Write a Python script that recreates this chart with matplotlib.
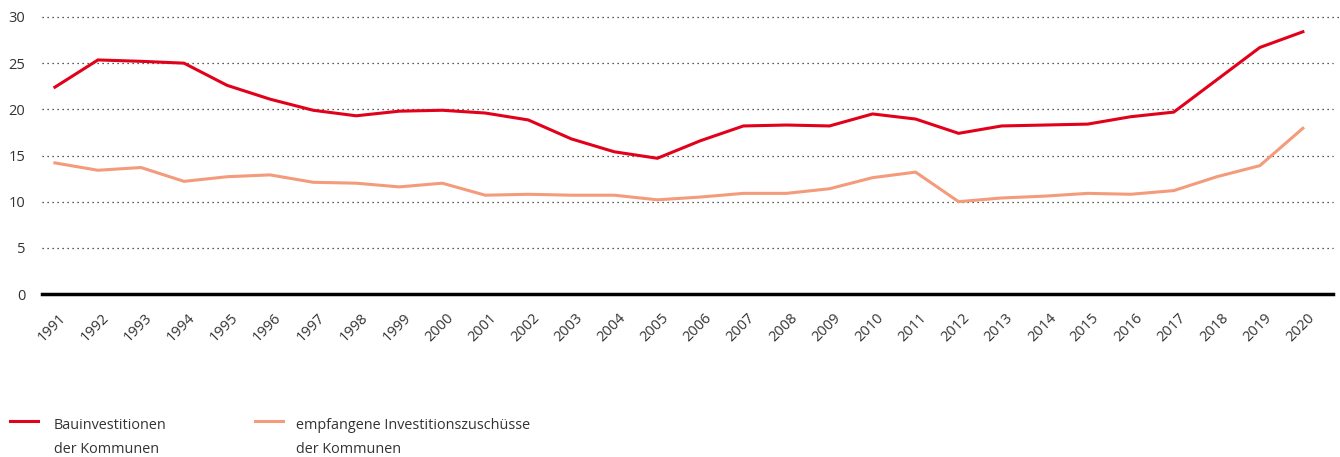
import matplotlib
matplotlib.use("Agg")
import matplotlib.pyplot as plt
from matplotlib.lines import Line2D
from matplotlib.transforms import ScaledTranslation

years = list(range(1991, 2021))
bauinvestitionen = [22.4, 25.35, 25.2, 25.0, 22.6, 21.1, 19.9, 19.3, 19.8, 19.9,
                    19.6, 18.85, 16.8, 15.4, 14.7, 16.6, 18.2, 18.3, 18.2, 19.5,
                    18.95, 17.4, 18.2, 18.3, 18.4, 19.2, 19.7, 23.2, 26.7, 28.4]
zuschuesse = [14.2, 13.4, 13.7, 12.2, 12.7, 12.9, 12.1, 12.0, 11.6, 12.0,
              10.7, 10.8, 10.7, 10.7, 10.2, 10.5, 10.9, 10.9, 11.4, 12.6,
              13.2, 10.0, 10.4, 10.6, 10.9, 10.8, 11.2, 12.7, 13.9, 17.95]
yticks = [0, 5, 10, 15, 20, 25, 30]
labels = ["Bauinvestitionen\nder Kommunen",
          "empfangene Investitionszuschüsse\nder Kommunen"]

RED = "#e2001a"
SALMON = "#f39b7a"
TXT = "#333333"

plt.rcParams['font.family'] = ['Open Sans', 'DejaVu Sans']

W, H = 1340, 457
fig = plt.figure(figsize=(W/100, H/100), dpi=100)
ax = fig.add_axes([42/W, 1-294/H, (1333-42)/W, (294-17)/H])

ax.plot(years, zuschuesse, color=SALMON, lw=2.2, solid_joinstyle='miter', zorder=3)
ax.plot(years, bauinvestitionen, color=RED, lw=2.2, solid_joinstyle='miter', zorder=4)

ax.set_xlim(1990.7, 2020.7)
ax.set_ylim(0, 30)
ax.set_yticks(yticks)
ax.set_xticks(years)
ax.set_xticklabels([str(y) for y in years], rotation=45, ha='right',
                   rotation_mode='anchor', fontsize=10.5, color=TXT)
ax.set_yticklabels([str(v) for v in yticks], fontsize=10.5, color=TXT)
ax.tick_params(axis='both', length=0)
ax.tick_params(axis='y', pad=12)
ax.tick_params(axis='x', pad=12)
shift = ScaledTranslation(4/100, 0, fig.dpi_scale_trans)
for lab in ax.get_xticklabels():
    lab.set_transform(lab.get_transform() + shift)

for v in yticks[1:]:
    ax.axhline(v, color="#222222", lw=0.9, ls=(0, (1, 3)), zorder=1, clip_on=False,
               xmax=1.005 if v == 30 else 1.0)
ax.axhline(0, color="black", lw=2.5, zorder=5, clip_on=False)

for s in ax.spines.values():
    s.set_visible(False)

# legend (manual, handle aligned with first text line)
entries = [(RED, labels[0], 10, 54), (SALMON, labels[1], 255, 296)]
for color, text, lx, tx in entries:
    fig.add_artist(Line2D([lx/W, (lx+28)/W], [1-421/H, 1-421/H], color=color, lw=2.2,
                          transform=fig.transFigure))
    for i, line in enumerate(text.split("\n")):
        fig.text(tx/W, 1-(429+24*i)/H, line, fontsize=10.4, color=TXT,
                 ha='left', va='baseline')

fig.savefig("out.png", dpi=100)
